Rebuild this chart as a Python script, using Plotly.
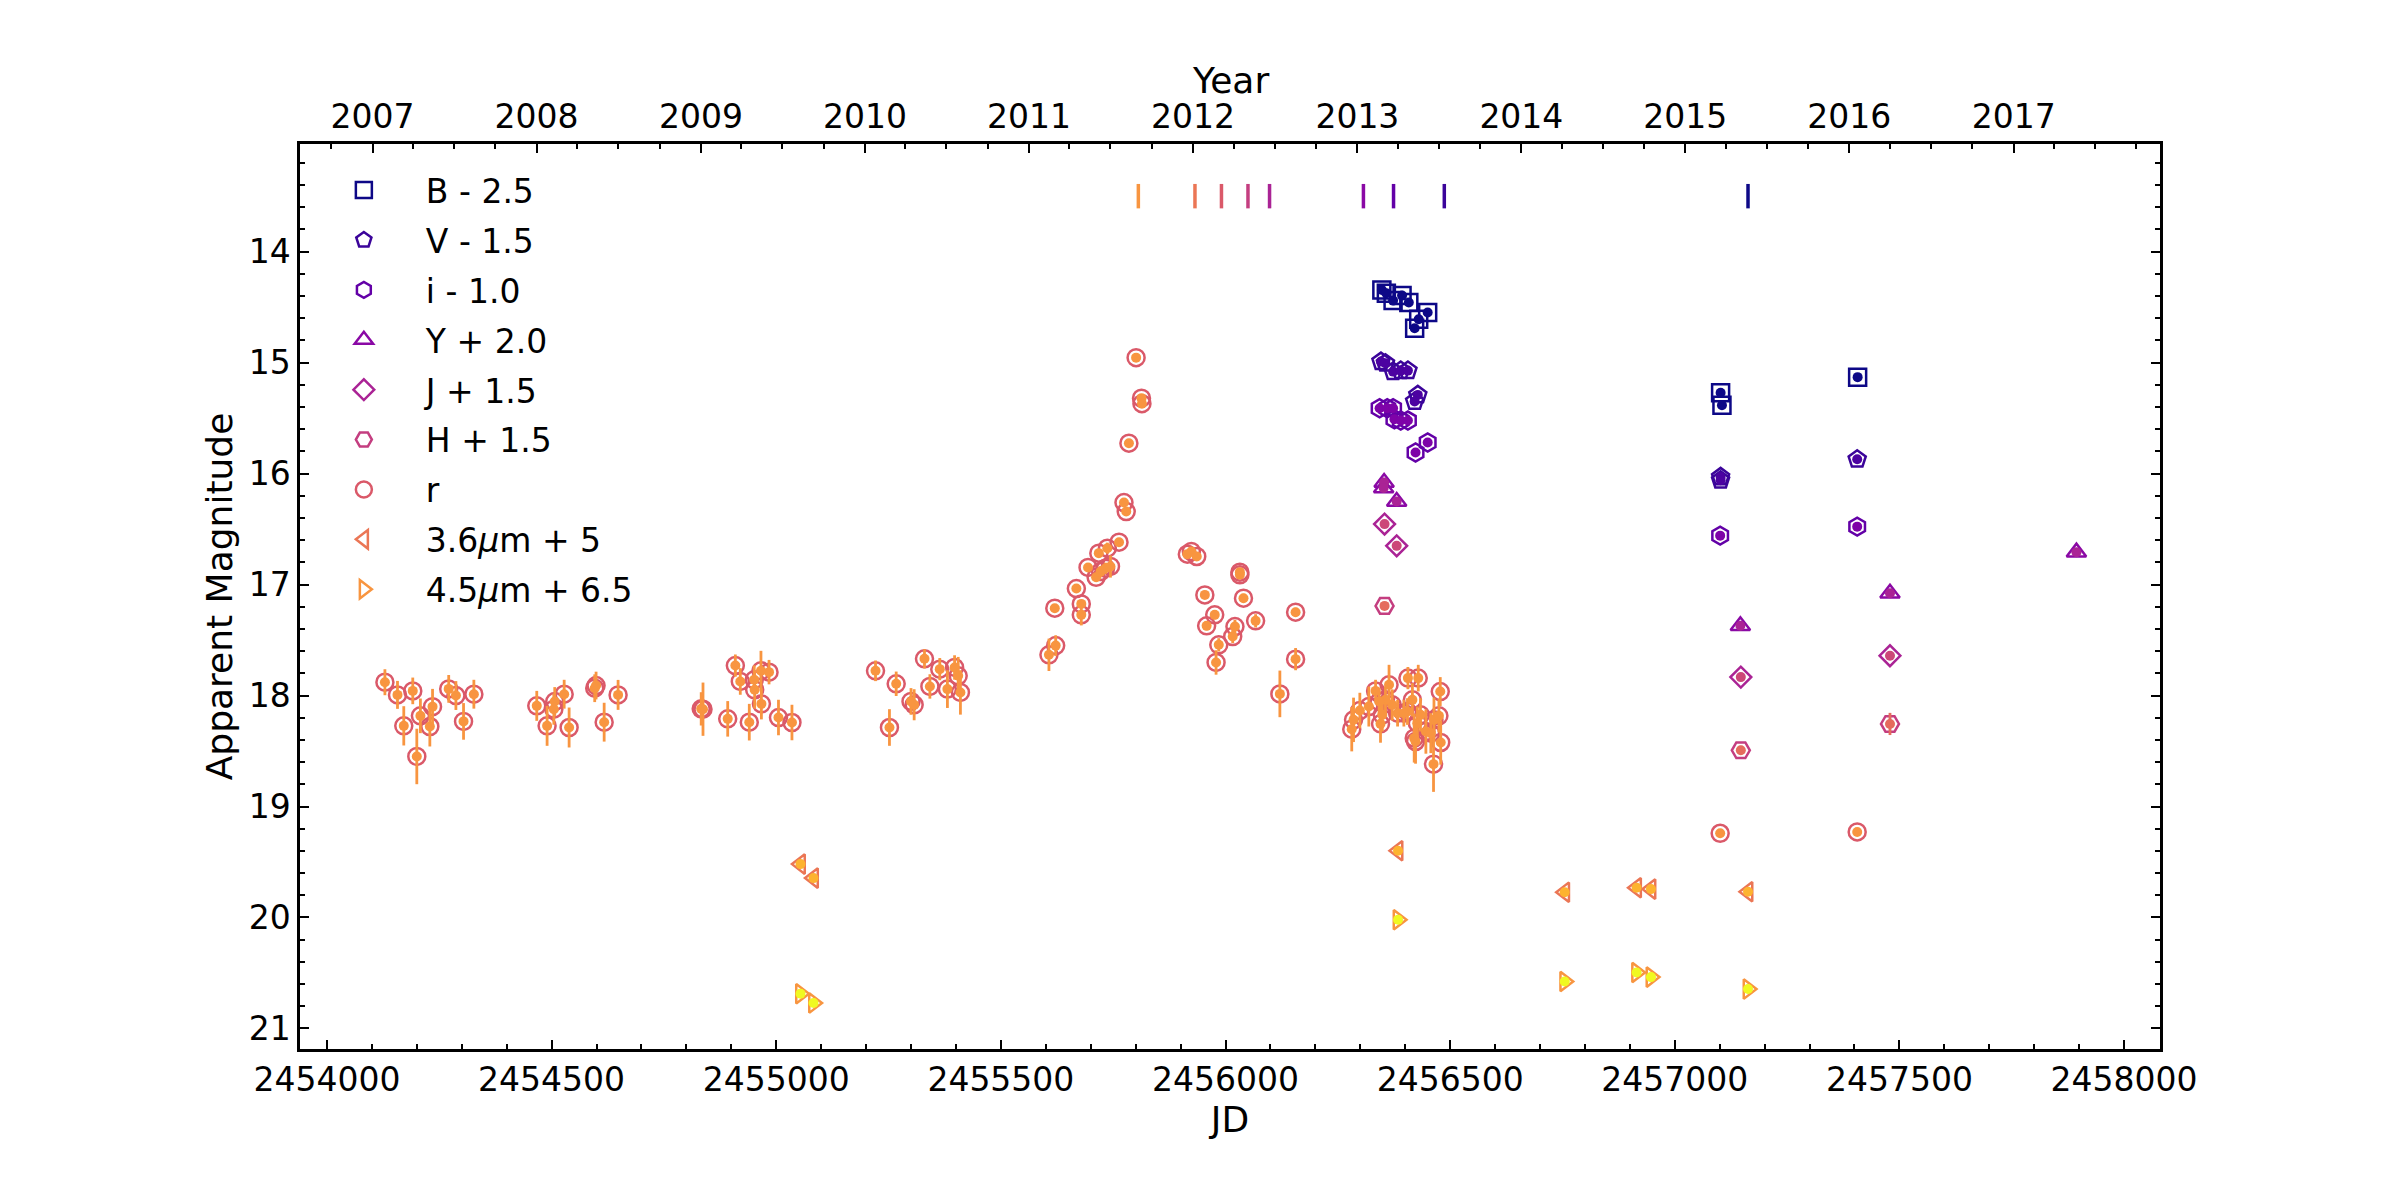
import datetime
import plotly.graph_objects as go

# ---- data ----
# offsets applied in the legend labels: B-2.5, V-1.5, i-1.0, Y+2.0, J+1.5, H+1.5, r, 3.6um+5, 4.5um+6.5
b_jd = [2456348, 2456358, 2456373, 2456393, 2456408, 2456450, 2456430, 2456421, 2457102, 2457105, 2457407]
b_mag = [14.345, 14.375, 14.441, 14.396, 14.459, 14.549, 14.609, 14.69, 15.272, 15.384, 15.131]
b_err = [0.02] * 11

v_jd = [2456346, 2456356, 2456373, 2456390, 2456406, 2456428, 2456421, 2457102, 2457102, 2457406]
v_mag = [14.991, 15.006, 15.081, 15.072, 15.072, 15.291, 15.351, 16.03, 16.06, 15.871]
v_err = [0.02] * 10

i_jd = [2456343, 2456360, 2456373, 2456376, 2456390, 2456406, 2456450, 2456423, 2457101, 2457406]
i_mag = [15.411, 15.411, 15.411, 15.51, 15.522, 15.522, 15.72, 15.81, 16.559, 16.478]
i_err = [0.02] * 10

y_jd = [2456353, 2456352, 2456381, 2457146, 2457479, 2457894]
y_mag = [16.08, 16.13, 16.252, 17.371, 17.078, 16.708]
y_err = [0.02, 0.02, 0.02, 0.03, 0.03, 0.03]

j_jd = [2456354, 2456381, 2457147, 2457479]
j_mag = [16.455, 16.651, 17.834, 17.641]
j_err = [0.02, 0.02, 0.03, 0.03]

h_jd = [2456354, 2457147, 2457479]
h_mag = [17.192, 18.493, 18.256]
h_err = [0.02, 0.04, 0.1]

r_jd = [
    2454129, 2454157, 2454171, 2454191, 2454208, 2454200, 2454229, 2454235, 2454271, 2454287, 2454304, 2454327,
    2454467, 2454490, 2454505, 2454507, 2454528, 2454539, 2454596, 2454599, 2454617, 2454648,
    2454837, 2454833, 2454892, 2454909, 2454920, 2454940, 2454951, 2454952, 2454966, 2454967, 2454984, 2455005, 2455035,
    2455221, 2455252, 2455267, 2455300, 2455307, 2455330, 2455342, 2455364, 2455381, 2455397, 2455405, 2455410,
    2455607, 2455622, 2455620, 2455679, 2455679, 2455668, 2455694, 2455712, 2455718, 2455737, 2455744, 2455733,
    2455763, 2455722, 2455774, 2455779, 2455785, 2455801, 2455813, 2455814,
    2455915, 2455924, 2455936, 2455954, 2456032, 2456032, 2455976, 2455958, 2456040, 2456021, 2456016, 2456067,
    2455985, 2455979, 2456156, 2456156, 2456121,
    2456281, 2456285, 2456299, 2456319, 2456334, 2456345, 2456349, 2456364, 2456371, 2456383, 2456405, 2456406,
    2456429, 2456416, 2456420, 2456423, 2456434, 2456446, 2456457, 2456464, 2456478, 2456475, 2456479, 2456463,
    2456427, 2456356, 2456342, 2456397,
    2457101, 2457406,
]
r_mag = [
    17.88, 17.994, 18.273, 17.958, 18.183, 18.549, 18.279, 18.10, 17.94, 18.0, 18.233, 17.988,
    18.093, 18.273, 18.123, 18.054, 17.988, 18.288, 17.934, 17.91, 18.24, 17.994,
    18.123, 18.12, 18.21, 17.73, 17.873, 18.24, 17.858, 17.948, 17.777, 18.075, 17.789, 18.198, 18.243,
    17.777, 18.288, 17.894, 18.053, 18.083, 17.669, 17.918, 17.762, 17.942, 17.747, 17.822, 17.972,
    17.633, 17.55, 17.213, 17.273, 17.174, 17.036, 16.846, 16.934, 16.717, 16.672, 16.837, 16.853,
    16.618, 16.883, 16.261, 16.342, 15.726, 14.955, 15.32, 15.37,
    16.726, 16.702, 16.747, 17.093, 16.888, 16.912, 17.273, 17.372, 17.123, 17.378, 17.468, 17.327,
    17.543, 17.702, 17.249, 17.672, 17.985,
    18.303, 18.219, 18.135, 18.099, 17.958, 18.255, 18.174, 17.903, 18.084, 18.159, 18.144, 17.843,
    17.843, 18.039, 18.384, 18.414, 18.174, 18.324, 18.339, 18.219, 17.964, 18.183, 18.423, 18.618,
    18.249, 18.039, 18.054, 18.159,
    19.241, 19.229,
]
r_err = [
    0.117, 0.126, 0.177, 0.12, 0.156, 0.25, 0.18, 0.16, 0.125, 0.13, 0.165, 0.13,
    0.135, 0.18, 0.14, 0.13, 0.13, 0.18, 0.125, 0.125, 0.175, 0.135,
    0.24, 0.15, 0.16, 0.1, 0.12, 0.165, 0.13, 0.17, 0.18, 0.14, 0.11, 0.16, 0.16,
    0.093, 0.165, 0.11, 0.12, 0.14, 0.087, 0.11, 0.1, 0.17, 0.11, 0.17, 0.2,
    0.146, 0.093, 0.03, 0.095, 0.03, 0.03, 0.03, 0.04, 0.03, 0.05, 0.1, 0.05,
    0.03, 0.05, 0.03, 0.03, 0.02, 0.02, 0.02, 0.02,
    0.02, 0.02, 0.02, 0.03, 0.03, 0.03, 0.04, 0.04, 0.04, 0.06, 0.06, 0.06,
    0.06, 0.11, 0.04, 0.1, 0.21,
    0.2, 0.2, 0.16, 0.18, 0.1, 0.17, 0.15, 0.18, 0.14, 0.12, 0.12, 0.1,
    0.12, 0.15, 0.22, 0.2, 0.15, 0.2, 0.18, 0.2, 0.13, 0.15, 0.2, 0.25,
    0.15, 0.12, 0.12, 0.12,
    0.02, 0.02,
]

ch1_jd = [2455054, 2455083, 2456384, 2456755, 2456915, 2456947, 2457163]
ch1_mag = [19.519, 19.645, 19.399, 19.772, 19.732, 19.744, 19.768]
ch1_err = [0.02] * 7

ch2_jd = [2455054, 2455083, 2456384, 2456755, 2456915, 2456947, 2457163]
ch2_mag = [20.687, 20.771, 20.02, 20.577, 20.496, 20.537, 20.645]
ch2_err = [0.02] * 7

# epochs marked with short bars along the top
epoch_jd = [2455806, 2455932, 2455991, 2456050, 2456098, 2456307, 2456374, 2456487, 2457163]
epoch_mag = [13.39, 13.61]

years = list(range(2007, 2018))

band_names = ["B - 2.5", "V - 1.5", "i - 1.0", "Y + 2.0", "J + 1.5", "H + 1.5", "r",
              "3.6<i>μ</i>m + 5", "4.5<i>μ</i>m + 6.5"]

# plasma(linspace(0, .75, 9)) for outlines, plasma(linspace(0, 1, 9)) for the dots / error bars
edge_cols = ["#0d0887", "#3b049a", "#6300a7", "#8a09a5", "#aa2395", "#c43e80", "#da5969", "#eb7655", "#f89540"]
dot_cols = ["#0d0887", "#4c02a1", "#7e03a8", "#aa2395", "#cc4778", "#e56b5d", "#f89540", "#fdb32f", "#f0f921"]
symbols = ["square-open", "pentagon-open", "hexagon-open", "triangle-up-open", "diamond-open",
           "hexagon2-open", "circle-open", "triangle-left-open", "triangle-right-open"]
sizes = [17, 18, 18, 17, 16, 18, 17, 17, 17]

bands = [
    (b_jd, b_mag, b_err), (v_jd, v_mag, v_err), (i_jd, i_mag, i_err),
    (y_jd, y_mag, y_err), (j_jd, j_mag, j_err), (h_jd, h_mag, h_err),
    (r_jd, r_mag, r_err), (ch1_jd, ch1_mag, ch1_err), (ch2_jd, ch2_mag, ch2_err),
]

FONT = "DejaVu Sans"
XR = [2453940, 2458080]
YR = [21.185, 13.03]


def jd_of(year, month=1, day=1):
    d = datetime.date(year, month, day) - datetime.date(2000, 1, 1)
    return 2451544.5 + d.days


fig = go.Figure()

for k, (jd, mag, err) in enumerate(bands):
    # open outline marker (this one goes in the legend)
    fig.add_trace(go.Scatter(
        x=jd, y=mag, mode="markers", name=band_names[k], legendgroup=str(k),
        marker=dict(symbol=symbols[k], size=sizes[k], color=edge_cols[k],
                    line=dict(width=2.5, color=edge_cols[k])),
    ))
    # small filled dot + error bar on top
    fig.add_trace(go.Scatter(
        x=jd, y=mag, mode="markers", showlegend=False, legendgroup=str(k),
        marker=dict(symbol="circle", size=10, color=dot_cols[k], line=dict(width=0)),
        error_y=dict(type="data", array=err, color=dot_cols[k], thickness=2.8, width=0),
    ))

# epoch bars, reversed colour order
for k, e in enumerate(epoch_jd):
    fig.add_trace(go.Scatter(
        x=[e, e], y=epoch_mag, mode="lines", showlegend=False, hoverinfo="skip",
        line=dict(color=edge_cols[::-1][k], width=3.5),
    ))

# dummy trace so the top (year) axis is drawn
fig.add_trace(go.Scatter(x=XR, y=[17, 17], xaxis="x2", mode="markers",
                         marker=dict(opacity=0), showlegend=False, hoverinfo="skip"))

year_ticks = [jd_of(y) for y in years]
quarter_ticks = []
for y in range(2006, 2019):
    for m in (4, 7, 10):
        quarter_ticks.append(jd_of(y, m, 1))

axis_common = dict(showline=True, linecolor="black", linewidth=2.5, showgrid=False, zeroline=False,
                   ticks="inside", ticklen=9, tickwidth=2, tickcolor="black",
                   tickfont=dict(family=FONT, size=33, color="black"))

fig.update_layout(
    width=2400, height=1200,
    margin=dict(l=300, r=240, t=144, b=151, autoexpand=False),
    paper_bgcolor="white", plot_bgcolor="white",
    font=dict(family=FONT, color="black"),
    xaxis=dict(range=XR, dtick=500, tick0=2454000, mirror=True, tickformat="d",
               minor=dict(dtick=100, ticks="inside", ticklen=5, tickwidth=1.5, tickcolor="black"),
               title=dict(text="JD", font=dict(family=FONT, size=36), standoff=4),
               **axis_common),
    xaxis2=dict(range=XR, overlaying="x", side="top", anchor="y",
                tickmode="array", tickvals=year_ticks, ticktext=[str(y) for y in years],
                minor=dict(tickmode="array", tickvals=quarter_ticks, ticks="inside", ticklen=5,
                           tickwidth=1.5, tickcolor="black"),
                **axis_common),
    yaxis=dict(range=YR, dtick=1, mirror="ticks",
               minor=dict(dtick=0.2, ticks="inside", ticklen=5, tickwidth=1.5, tickcolor="black"),
               title=dict(text="Apparent Magnitude", font=dict(family=FONT, size=36), standoff=6),
               **axis_common),
    legend=dict(x=0.001, y=0.98, xanchor="left", yanchor="top", bgcolor="rgba(0,0,0,0)",
                font=dict(family=FONT, size=33), itemwidth=114, tracegroupgap=4),
    annotations=[dict(text="Year", x=0.5, y=1 + (144 - 81) / 905, xref="paper", yref="paper",
                      xanchor="center", yanchor="middle", showarrow=False,
                      font=dict(family=FONT, size=36, color="black"))],
)

fig.write_html("out.html", config={"displayModeBar": False},
               post_script="document.body.style.margin='0';")
